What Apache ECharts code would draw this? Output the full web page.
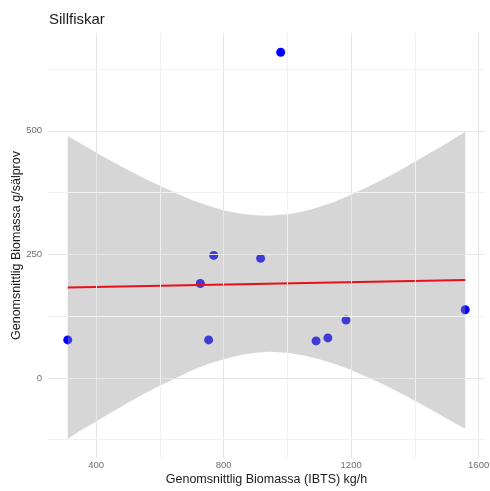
<!DOCTYPE html>
<html>
<head>
<meta charset="utf-8">
<script src="https://cdn.jsdelivr.net/npm/echarts@6/dist/echarts.min.js"></script>
<style>html,body{margin:0;padding:0;background:#fff}#c{width:490px;height:491px}</style>
</head>
<body>
<div id="c"></div>
<script>
// Observed points
var ptsX = [311, 727, 753, 769, 916, 979, 1090, 1127, 1184, 1558];
var ptsY = [77, 191, 77, 248, 242, 659, 75, 81, 117, 138];
// Fitted line
var fitX = [311, 1558];
var fitY = [183, 198];
// Confidence band edges
var bandX = [311, 350, 400, 450, 500, 550, 600, 650, 700, 750, 800, 850, 900, 941, 1000, 1050, 1100, 1150, 1200, 1250, 1300, 1350, 1400, 1450, 1500, 1530, 1558];
var bandLow = [-123, -107, -88, -69, -50, -32, -16, 0, 15, 28, 38, 46, 51, 53, 51, 46, 38, 28, 16, 2, -13, -29, -46, -64, -82, -93, -103];
var bandHigh = [489, 475, 456, 438, 421, 404, 389, 374, 360, 349, 339, 333, 329, 328, 331, 337, 346, 357, 371, 386, 402, 419, 438, 456, 475, 487, 498];
// Ticks
var xMajor = [400, 800, 1200, 1600];
var xMinor = [600, 1000, 1400];
var yMajor = [0, 250, 500];
var yMinor = [-125, 125, 375, 625];

var FONT = '"Liberation Sans", Arial, sans-serif';
var chart = echarts.init(document.getElementById('c'), null, {renderer: 'canvas'});

var pts = ptsX.map(function (x, i) { return [x, ptsY[i]]; });
var fit = fitX.map(function (x, i) { return [x, fitY[i]]; });

var gridMarks = [];
xMajor.forEach(function (v) { gridMarks.push({xAxis: v, lineStyle: {color: '#e6e6e6', width: 1, type: 'solid'}}); });
xMinor.forEach(function (v) { gridMarks.push({xAxis: v, lineStyle: {color: '#f1f1f1', width: 1, type: 'solid'}}); });
yMajor.forEach(function (v) { gridMarks.push({yAxis: v, lineStyle: {color: '#e6e6e6', width: 1, type: 'solid'}}); });
yMinor.forEach(function (v) { gridMarks.push({yAxis: v, lineStyle: {color: '#f1f1f1', width: 1, type: 'solid'}}); });

function renderBand(params, api) {
  var poly = [];
  var i;
  for (i = 0; i < bandX.length; i++) poly.push(api.coord([bandX[i], bandHigh[i]]));
  for (i = bandX.length - 1; i >= 0; i--) poly.push(api.coord([bandX[i], bandLow[i]]));
  return {
    type: 'polygon',
    shape: {points: poly},
    style: {fill: 'rgba(153,153,153,0.4)', stroke: null}
  };
}

chart.setOption({
  animation: false,
  backgroundColor: '#ffffff',
  title: {
    text: 'Sillfiskar',
    left: 44, top: 7,
    textStyle: {fontFamily: FONT, fontSize: 15, fontWeight: 'normal', color: '#1a1a1a'}
  },
  grid: {left: 48, right: 5, top: 33, bottom: 33, containLabel: false, outerBoundsMode: 'none'},
  xAxis: {
    type: 'value', min: 249, max: 1620,
    name: 'Genomsnittlig Biomassa (IBTS) kg/h',
    nameLocation: 'middle', nameGap: 15, nameMoveOverlap: false,
    nameTextStyle: {fontFamily: FONT, fontSize: 12.5, color: '#1a1a1a'},
    axisLine: {show: false}, axisTick: {show: false}, splitLine: {show: false},
    axisLabel: {customValues: xMajor, margin: 2, fontFamily: FONT, fontSize: 9.5, color: '#6e6e6e',
      formatter: function (v) { return String(v); }}
  },
  yAxis: {
    type: 'value', min: -162, max: 698,
    name: 'Genomsnittlig Biomassa g/sälprov',
    nameLocation: 'middle', nameGap: 25, nameRotate: 90, nameMoveOverlap: false,
    nameTextStyle: {fontFamily: FONT, fontSize: 12.5, color: '#1a1a1a'},
    axisLine: {show: false}, axisTick: {show: false}, splitLine: {show: false},
    axisLabel: {customValues: yMajor, margin: 6, fontFamily: FONT, fontSize: 9.5, color: '#6e6e6e',
      formatter: function (v) { return String(v); }}
  },
  series: [
    {
      type: 'scatter', name: 'grid', data: [], z: 1, silent: true,
      markLine: {silent: true, symbol: 'none', label: {show: false}, animation: false, data: gridMarks}
    },
    {
      type: 'scatter', name: 'pts', data: pts, z: 2, symbol: 'circle', symbolSize: 9,
      itemStyle: {color: '#0000ff', opacity: 1}
    },
    {
      type: 'custom', name: 'band', data: [[bandX[0], bandLow[0]]], z: 3, silent: true,
      renderItem: renderBand
    },
    {
      type: 'line', name: 'fit', data: fit, z: 4, symbol: 'none',
      lineStyle: {color: '#e8101a', width: 2}
    }
  ]
});
</script>
</body>
</html>
